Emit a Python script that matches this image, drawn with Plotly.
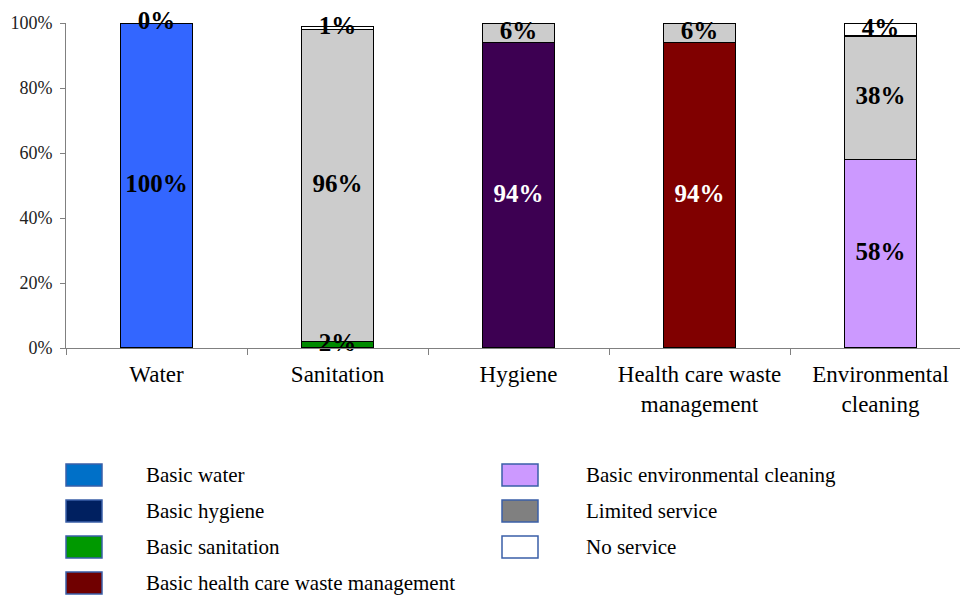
import plotly.graph_objects as go

categories = ["Water", "Sanitation", "Hygiene", "Health care waste<br>management", "Environmental<br>cleaning"]

basic_values = [100, 2, 94, 94, 58]
limited_values = [0, 96, 6, 6, 38]
none_values = [0, 1, 0, 0, 4]

basic_labels = ["100%", "2%", "94%", "94%", "58%"]
limited_labels = ["0%", "96%", "6%", "6%", "38%"]
none_labels = ["", "1%", "", "", "4%"]

y_tick_values = [0, 20, 40, 60, 80, 100]
y_tick_labels = ["0%", "20%", "40%", "60%", "80%", "100%"]

basic_colors = ["#3366FF", "#008A00", "#3D0052", "#800000", "#CC99FF"]
basic_label_colors = ["black", "black", "white", "white", "black"]
limited_color = "#CCCCCC"
none_color = "#FFFFFF"

legend_labels = ["Basic water", "Basic hygiene", "Basic sanitation", "Basic health care waste management",
                 "Basic environmental cleaning", "Limited service", "No service"]
legend_colors = ["#0070C8", "#002060", "#009900", "#700000", "#CC99FF", "#808080", "#FFFFFF"]

FONT = "Liberation Serif"
W, H = 960, 595
L, T, B = 66, 23, 247
PW, PH = W - L, H - T - B

fig = go.Figure()
line = dict(color="black", width=1.5)
fig.add_trace(go.Bar(x=categories, y=basic_values, marker=dict(color=basic_colors, line=line),
                     width=0.4, showlegend=False, hoverinfo="skip"))
fig.add_trace(go.Bar(x=categories, y=limited_values, marker=dict(color=limited_color, line=line),
                     width=0.4, showlegend=False, hoverinfo="skip"))
fig.add_trace(go.Bar(x=categories, y=none_values, marker=dict(color=none_color, line=line),
                     width=0.4, showlegend=False, hoverinfo="skip"))

# labels at segment centres
lx, ly, lt, lc = [], [], [], []
for i, c in enumerate(categories):
    b = basic_values[i]
    l = limited_values[i]
    n = none_values[i]
    lx.append(c); ly.append(b / 2); lt.append(basic_labels[i]); lc.append(basic_label_colors[i])
    if limited_labels[i]:
        lx.append(c); ly.append(b + l / 2); lt.append(limited_labels[i]); lc.append("black")
    if none_labels[i]:
        lx.append(c); ly.append(b + l + n / 2); lt.append(none_labels[i]); lc.append("black")

fig.add_trace(go.Scatter(x=lx, y=ly, text=lt, mode="text", cliponaxis=False,
                         textfont=dict(family=FONT, size=25, color=lc, weight="bold"),
                         showlegend=False, hoverinfo="skip"))

# custom legend
shapes, annots = [], []
rows = [(0, 0), (0, 1), (0, 2), (0, 3), (1, 0), (1, 1), (1, 2)]
col_sw_x = [66, 502]
col_tx_x = [144, 584]
for (col, row), lab, colr in zip(rows, legend_labels, legend_colors):
    cy = 475 + row * 36
    x0, x1 = col_sw_x[col], col_sw_x[col] + 36
    y0, y1 = cy - 11, cy + 11
    shapes.append(dict(type="rect", xref="paper", yref="paper",
                       x0=(x0 - L) / PW, x1=(x1 - L) / PW,
                       y0=(H - B - y1) / PH, y1=(H - B - y0) / PH,
                       fillcolor=colr, line=dict(color="#3A5FA8", width=1.5)))
    annots.append(dict(xref="paper", yref="paper", x=(col_tx_x[col] - L) / PW, y=(H - B - cy) / PH,
                       text=lab, showarrow=False, xanchor="left", yanchor="middle",
                       font=dict(family=FONT, size=21, color="black")))

fig.update_layout(
    width=W, height=H,
    margin=dict(l=L, r=0, t=T, b=B),
    barmode="stack",
    paper_bgcolor="white", plot_bgcolor="white",
    font=dict(family=FONT, color="black"),
    shapes=shapes, annotations=annots,
    showlegend=False,
)
fig.update_xaxes(range=[-0.5, 4.5 - 11 / 181], tickson="boundaries", ticks="outside", ticklen=6,
                 tickcolor="#808080", showline=True, linecolor="#808080", linewidth=1,
                 ticklabelstandoff=5,
                 tickfont=dict(family=FONT, size=23, color="black"), showgrid=False)
fig.update_yaxes(range=[0, 100], tickmode="array", tickvals=y_tick_values, ticktext=y_tick_labels,
                 ticks="outside", ticklen=5, tickcolor="#808080", showline=True,
                 linecolor="#808080", linewidth=1, showgrid=False, zeroline=False,
                 ticklabelstandoff=4,
                 tickfont=dict(family=FONT, size=18, color="#222"))

fig.write_html("out.html")
